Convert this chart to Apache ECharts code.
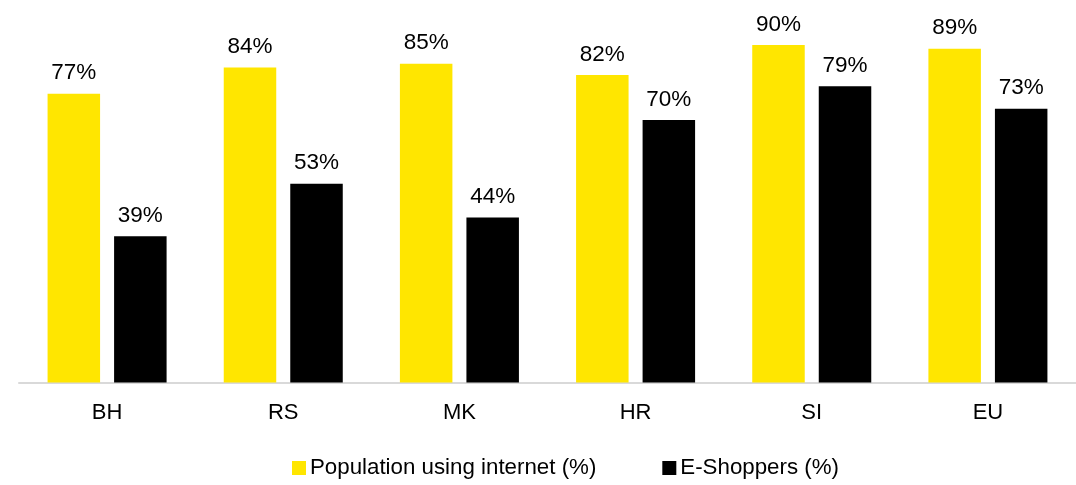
<!DOCTYPE html>
<html>
<head>
<meta charset="utf-8">
<script src="https://cdn.jsdelivr.net/npm/echarts@6/dist/echarts.min.js"></script>
<style>
html,body{margin:0;padding:0;background:#fff;}
#chart{width:1076px;height:485px;}
</style>
</head>
<body>
<div id="chart"></div>
<script>
const categories = ['BH', 'RS', 'MK', 'HR', 'SI', 'EU'];
const internetUsers = [77, 84, 85, 82, 90, 89];
const eShoppers = [39, 53, 44, 70, 79, 73];
const seriesNames = ['Population using internet (%)', 'E-Shoppers (%)'];

const FONT = 'Liberation Sans, Arial, sans-serif';
const chart = echarts.init(document.getElementById('chart'), null, {renderer: 'canvas'});
const labelCfg = {
  show: true, position: 'top', distance: 9,
  color: '#000', fontSize: 22.5, fontFamily: FONT,
  formatter: p => p.value + '%'
};
chart.setOption({
  animation: false,
  backgroundColor: '#ffffff',
  grid: {left: 19, right: 0, top: 7.5, bottom: 102.5, containLabel: false},
  legend: {
    top: 457, left: 292, padding: 0,
    itemWidth: 14, itemHeight: 14, itemGap: 66,
    icon: 'rect',
    textStyle: {fontSize: 22.3, fontFamily: FONT, color: '#000', padding: [0, 0, 0, -1]},
    data: seriesNames
  },
  xAxis: {
    type: 'category', data: categories,
    axisLine: {show: true, lineStyle: {color: '#d9d9d9', width: 2}},
    axisTick: {show: false},
    axisLabel: {fontSize: 22, fontFamily: FONT, color: '#000', margin: 19}
  },
  yAxis: {
    type: 'value', min: 0, max: 100, interval: 10,
    show: false, splitLine: {show: false}
  },
  series: [
    {name: seriesNames[0], type: 'bar', data: internetUsers, barWidth: 52.5, barGap: '26.7%',
     itemStyle: {color: '#FFE600'}, label: labelCfg},
    {name: seriesNames[1], type: 'bar', data: eShoppers, barWidth: 52.5, barGap: '26.7%',
     itemStyle: {color: '#000000'}, label: labelCfg}
  ]
});
</script>
</body>
</html>
